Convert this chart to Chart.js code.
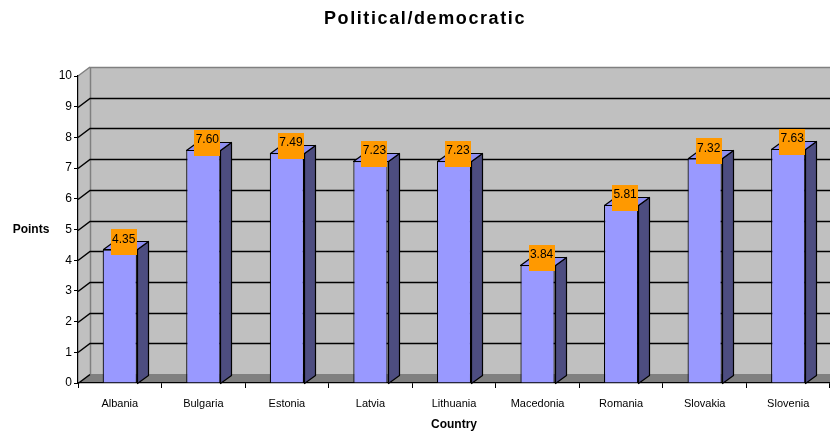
<!DOCTYPE html>
<html>
<head>
<meta charset="utf-8">
<script src="https://cdn.jsdelivr.net/npm/chart.js@4"></script>
<style>
  html, body { margin: 0; padding: 0; background: #fff; }
  #wrap { width: 830px; height: 434px; }
</style>
</head>
<body>
<div id="wrap"><canvas id="chart"></canvas></div>
<script>
// data
const countries = ['Albania', 'Bulgaria', 'Estonia', 'Latvia', 'Lithuania', 'Macedonia', 'Romania', 'Slovakia', 'Slovenia'];
const points = [4.35, 7.60, 7.49, 7.23, 7.23, 3.84, 5.81, 7.32, 7.63];
const yTicks = [0, 1, 2, 3, 4, 5, 6, 7, 8, 9, 10];

const FONT = '"Liberation Sans", Arial, sans-serif';
const DX = 12, DY = 9;       // depth of the walls
const BDX = 11, BDY = 8;     // depth of the bars

// back wall, side wall, floor and gridlines of the 3d look
const walls = {
    id: 'walls',
    beforeDraw(chart) {
        const { ctx, chartArea: a, scales: { y } } = chart;
        const right = chart.width + 20;
        ctx.save();
        // side wall
        ctx.fillStyle = '#c0c0c0';
        ctx.beginPath();
        ctx.moveTo(a.left, a.bottom);
        ctx.lineTo(a.left, a.top);
        ctx.lineTo(a.left + DX, a.top - DY);
        ctx.lineTo(a.left + DX, a.bottom - DY);
        ctx.closePath();
        ctx.fill();
        // back wall
        ctx.fillRect(a.left + DX, a.top - DY, right, a.bottom - a.top);
        // floor
        ctx.fillStyle = '#808080';
        ctx.beginPath();
        ctx.moveTo(a.left, a.bottom);
        ctx.lineTo(a.left + DX, a.bottom - DY);
        ctx.lineTo(right, a.bottom - DY);
        ctx.lineTo(right, a.bottom);
        ctx.closePath();
        ctx.fill();
        // wall edges
        ctx.strokeStyle = '#808080';
        ctx.lineWidth = 1.5;
        ctx.beginPath();
        ctx.moveTo(a.left + DX + 0.5, a.bottom - DY);
        ctx.lineTo(a.left + DX + 0.5, a.top - DY + 0.5);
        ctx.lineTo(right, a.top - DY + 0.5);
        ctx.moveTo(a.left, a.top);
        ctx.lineTo(a.left + DX, a.top - DY);
        ctx.stroke();
        // gridlines
        ctx.strokeStyle = '#000';
        ctx.lineWidth = 1.5;
        yTicks.forEach(v => {
            if (v === 10) return;
            const py = Math.round(y.getPixelForValue(v)) + 0.5;
            ctx.beginPath();
            ctx.moveTo(a.left, py);
            ctx.lineTo(a.left + DX, py - DY);
            if (v > 0) ctx.lineTo(right, py - DY);
            ctx.stroke();
        });
        ctx.restore();
    }
};

// side and top faces of the bars, then the value labels
const bars3d = {
    id: 'bars3d',
    afterDatasetsDraw(chart) {
        const { ctx } = chart;
        const meta = chart.getDatasetMeta(0);
        ctx.save();
        ctx.lineWidth = 1.2;
        ctx.strokeStyle = '#000';
        ctx.lineJoin = 'round';
        meta.data.forEach(bar => {
            const l = Math.round(bar.x - bar.width / 2) + 0.5;
            const r = Math.round(bar.x + bar.width / 2) + 0.5;
            const t = Math.round(bar.y) + 0.5;
            const b = Math.round(bar.base) + 0.5;
            // side
            ctx.fillStyle = '#4d4d80';
            ctx.beginPath();
            ctx.moveTo(r, b);
            ctx.lineTo(r, t);
            ctx.lineTo(r + BDX, t - BDY);
            ctx.lineTo(r + BDX, b - BDY);
            ctx.closePath();
            ctx.fill();
            ctx.stroke();
            // top
            ctx.fillStyle = '#8f8ff0';
            ctx.beginPath();
            ctx.moveTo(l, t);
            ctx.lineTo(r, t);
            ctx.lineTo(r + BDX, t - BDY);
            ctx.lineTo(l + BDX, t - BDY);
            ctx.closePath();
            ctx.fill();
            ctx.stroke();
        });
        // labels
        ctx.font = '12px ' + FONT;
        ctx.textAlign = 'center';
        ctx.textBaseline = 'middle';
        meta.data.forEach((bar, i) => {
            const cx = bar.x + 4;
            const top = bar.y - 20;
            ctx.fillStyle = '#ff9900';
            ctx.fillRect(Math.round(cx - 13), Math.round(top), 26, 26);
            ctx.fillStyle = '#000';
            ctx.fillText(points[i].toFixed(2), cx, top + 10);
        });
        // title and y axis title
        ctx.font = 'bold 18px ' + FONT;
        ctx.letterSpacing = '1.6px';
        ctx.fillText('Political/democratic', 425, 19);
        ctx.letterSpacing = '0px';
        ctx.font = 'bold 12px ' + FONT;
        ctx.fillText('Points', 31, 230);
        ctx.restore();
    }
};

new Chart(document.getElementById('chart'), {
    type: 'bar',
    data: {
        labels: countries,
        datasets: [{
            data: points,
            backgroundColor: '#9999ff',
            borderColor: '#000',
            borderWidth: 1.2,
            barPercentage: 0.41,
            categoryPercentage: 1
        }]
    },
    options: {
        responsive: true,
        maintainAspectRatio: false,
        animation: false,
        layout: { padding: { top: 76, left: 0, right: 0, bottom: 0 } },
        plugins: {
            legend: { display: false },
            tooltip: { enabled: false }
        },
        scales: {
            x: {
                offset: true,
                afterFit(scale) { scale.height = 51; },
                grid: { drawOnChartArea: false, offset: true, tickLength: 5, color: '#000' },
                border: { color: '#000', width: 1.2 },
                ticks: { color: '#000', font: { family: FONT, size: 11 }, padding: 9, maxRotation: 0 },
                title: { display: true, text: 'Country', color: '#000', font: { family: FONT, size: 12, weight: 'bold' }, padding: { top: 4, bottom: 2 } }
            },
            y: {
                min: 0,
                max: 10,
                afterFit(scale) { scale.width = 78; },
                afterBuildTicks(scale) { scale.ticks = yTicks.map(v => ({ value: v })); },
                grid: { drawOnChartArea: false, tickLength: 4, color: '#000' },
                border: { color: '#000', width: 1.2 },
                ticks: { color: '#000', font: { family: FONT, size: 12 }, padding: 2 }
            }
        }
    },
    plugins: [walls, bars3d]
});
</script>
</body>
</html>
